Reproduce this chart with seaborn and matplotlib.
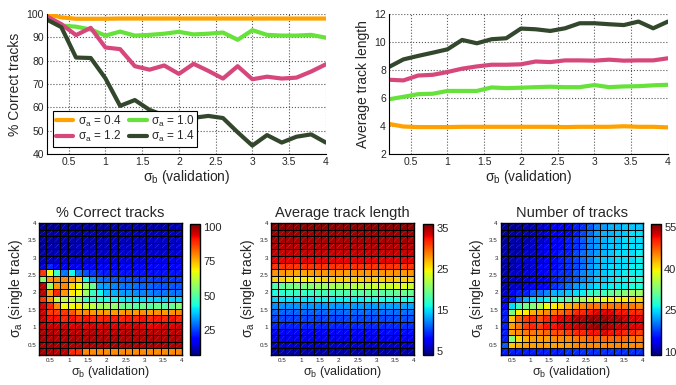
"""
Tracking performance vs. validation / single-track sigma
line plots (top) and parameter sweeps as heatmaps (bottom)
"""

import numpy as np
import pandas as pd
import matplotlib
matplotlib.use('Agg')
import matplotlib.pyplot as plt
from matplotlib.collections import LineCollection
import seaborn as sns

# INITIALIZE A FEW THINGS
sns.set_style('white')
plt.rcParams['font.family'] = ['Liberation Sans', 'DejaVu Sans']
plt.rcParams['mathtext.fontset'] = 'custom'
plt.rcParams['mathtext.rm'] = 'Liberation Sans'
plt.rcParams['mathtext.it'] = 'Liberation Sans:italic'

# ================================= #
# DATA
# ================================= #

sigma_b = [0.2, 0.4, 0.6, 0.8, 1.0, 1.2, 1.4, 1.6, 1.8, 2.0,
           2.2, 2.4, 2.6, 2.8, 3.0, 3.2, 3.4, 3.6, 3.8, 4.0]
sigma_a_lines = ['0.4', '1.0', '1.2', '1.4']
line_colors = ['#ffa200', '#66e23a', '#d6487c', '#33472d']

correct_04 = [100, 98.5, 97.9, 97.9, 97.9, 98, 98, 98, 98, 98,
              98, 98, 98, 98, 98, 98, 98, 98, 98, 98]
correct_10 = [98, 95, 94.5, 93.3, 90.7, 92.4, 90.7, 91, 91.5, 92.3,
              91.2, 91.5, 92, 88.9, 93, 91, 90.7, 90.7, 91, 89.8]
correct_12 = [99, 95.6, 90.9, 94, 85.6, 84.9, 77.6, 76.1, 77.9, 74.3,
              78.6, 75.6, 72.3, 77.6, 72, 73.1, 72.3, 72.7, 75.3, 78.4]
correct_14 = [97.6, 94.3, 81.3, 81.1, 72.4, 60.6, 63.1, 58.9, 56.5, 55.5,
              55.5, 56.3, 55.4, 49.3, 43.6, 48.1, 44.9, 47.4, 48.4, 44.9]

length_04 = [4.15, 3.96, 3.92, 3.92, 3.92, 3.94, 3.94, 3.94, 3.94, 3.94,
             3.94, 3.94, 3.92, 3.94, 3.94, 3.94, 3.98, 3.94, 3.94, 3.9]
length_10 = [5.9, 6.08, 6.27, 6.3, 6.5, 6.5, 6.5, 6.75, 6.7, 6.73,
             6.77, 6.8, 6.77, 6.77, 6.92, 6.77, 6.82, 6.84, 6.9, 6.94]
length_12 = [7.3, 7.25, 7.6, 7.65, 7.85, 8.09, 8.25, 8.37, 8.37, 8.4,
             8.6, 8.56, 8.68, 8.68, 8.66, 8.73, 8.66, 8.68, 8.68, 8.83]
length_14 = [8.2, 8.75, 9.0, 9.23, 9.47, 10.14, 9.9, 10.19, 10.26, 10.95,
             10.9, 10.78, 10.97, 11.33, 11.33, 11.26, 11.2, 11.45, 10.97, 11.45]

# heatmaps: rows run from sigma_a = 4 (top) down to 0.2 (bottom)
correct_grid = [
    [9, 9, 9, 10, 10, 10, 10, 10, 10, 10, 11, 11, 11, 11, 11, 11, 11, 11, 12, 12],
    [9, 10, 10, 10, 10, 10, 11, 11, 11, 11, 11, 11, 12, 12, 12, 12, 12, 12, 12, 12],
    [10, 10, 10, 11, 11, 11, 11, 11, 12, 12, 12, 12, 12, 12, 12, 13, 13, 13, 13, 13],
    [10, 11, 11, 11, 11, 12, 12, 12, 12, 12, 13, 13, 13, 13, 13, 13, 13, 13, 14, 14],
    [11, 11, 12, 12, 12, 12, 13, 13, 13, 13, 13, 14, 14, 14, 14, 14, 14, 14, 14, 15],
    [12, 13, 13, 14, 14, 14, 14, 14, 15, 15, 15, 15, 15, 15, 15, 16, 16, 16, 16, 16],
    [15, 22, 17, 17, 17, 17, 18, 18, 18, 18, 18, 18, 18, 18, 19, 19, 19, 19, 19, 19],
    [88, 68, 46, 30, 42, 30, 26, 24, 22, 21, 21, 20, 20, 20, 20, 20, 20, 20, 20, 20],
    [56, 78, 79, 80, 78, 74, 42, 33, 30, 28, 27, 26, 26, 25, 25, 25, 24, 24, 24, 24],
    [97, 58, 78, 80, 72, 68, 58, 52, 34, 33, 31, 30, 30, 29, 28, 28, 27, 27, 27, 27],
    [97, 78, 90, 78, 70, 68, 58, 46, 42, 36, 35, 33, 33, 32, 31, 31, 30, 30, 30, 30],
    [88, 78, 62, 62, 62, 57, 46, 46, 44, 43, 42, 41, 40, 40, 39, 39, 38, 38, 38, 38],
    [95, 90, 80, 68, 68, 70, 63, 62, 58, 58, 57, 52, 52, 50, 52, 50, 52, 50, 52, 55],
    [95, 88, 88, 88, 85, 80, 80, 78, 78, 78, 78, 78, 79, 78, 79, 78, 79, 78, 79, 80],
    [96, 92, 92, 90, 92, 90, 92, 90, 90, 91, 91, 90, 91, 90, 92, 90, 91, 90, 92, 90],
    [97, 95, 96, 95, 94, 95, 94, 95, 94, 96, 94, 95, 94, 95, 94, 93, 94, 95, 94, 95],
    [98, 98, 97, 98, 97, 97, 97, 98, 97, 97, 97, 97, 98, 97, 97, 97, 97, 97, 97, 97],
    [99, 98, 98, 98, 98, 98, 98, 98, 98, 98, 98, 98, 98, 98, 98, 98, 98, 98, 98, 98],
    [99, 99, 99, 98, 98, 98, 98, 98, 98, 98, 98, 98, 98, 98, 98, 98, 98, 98, 98, 98],
    [99, 98, 97, 97, 90, 89, 80, 80, 80, 80, 80, 80, 80, 80, 80, 80, 80, 80, 80, 80],
]

length_grid = [
    [35.6, 35.5, 35.6, 35.5, 35.6, 35.5, 35.6, 35.5, 35.6, 35.5, 35.6, 35.5, 35.6, 35.5, 35.6, 35.5, 35.6, 35.5, 35.6, 35.5],
    [35.2, 35.1, 35.2, 35.1, 35.2, 35.1, 35.2, 35.1, 35.2, 35.1, 35.2, 35.1, 35.2, 35.1, 35.2, 35.1, 35.2, 35.1, 35.2, 35.1],
    [34.9, 34.8, 34.9, 34.8, 34.9, 34.8, 34.9, 34.8, 34.9, 34.8, 34.9, 34.8, 34.9, 34.8, 34.9, 34.8, 34.9, 34.8, 34.9, 34.8],
    [34.5, 34.4, 34.5, 34.4, 34.5, 34.4, 34.5, 34.4, 34.5, 34.4, 34.5, 34.4, 34.5, 34.4, 34.5, 34.4, 34.5, 34.4, 34.5, 34.4],
    [34.0, 33.9, 34.0, 33.9, 34.0, 33.9, 34.0, 33.9, 34.0, 33.9, 34.0, 33.9, 34.0, 33.9, 34.0, 33.9, 34.0, 33.9, 34.0, 33.9],
    [33.2, 33.0, 33.1, 33.0, 33.2, 33.0, 33.1, 33.0, 33.2, 33.0, 33.1, 33.0, 33.2, 33.0, 33.1, 33.0, 33.2, 33.0, 33.1, 33.0],
    [31.6, 31.4, 31.5, 31.4, 31.6, 31.4, 31.5, 31.4, 31.6, 31.4, 31.5, 31.4, 31.6, 31.4, 31.5, 31.4, 31.6, 31.4, 31.5, 31.4],
    [28.2, 28.0, 27.8, 27.6, 27.6, 27.8, 28.0, 28.0, 28.2, 28.0, 27.8, 28.0, 28.2, 28.0, 28.0, 28.2, 28.0, 28.2, 28.0, 28.2],
    [26.0, 26.0, 25.5, 25.0, 25.0, 25.0, 25.5, 26.0, 26.0, 26.0, 26.0, 26.0, 26.0, 26.5, 26.0, 26.0, 26.5, 26.0, 26.0, 26.0],
    [18.0, 19.0, 19.5, 20.0, 20.0, 20.5, 21.0, 21.0, 21.5, 21.5, 22.0, 22.0, 22.5, 22.5, 23.0, 23.0, 23.0, 23.5, 24.0, 23.0],
    [16.0, 16.5, 17.0, 17.0, 17.0, 17.0, 17.5, 17.5, 17.5, 18.0, 18.0, 18.0, 18.5, 18.5, 18.5, 18.5, 18.5, 19.0, 19.0, 19.0],
    [14.5, 15.0, 15.0, 15.0, 15.0, 15.0, 15.5, 15.5, 15.5, 15.5, 15.5, 15.5, 15.5, 16.0, 16.0, 16.0, 16.0, 16.0, 16.0, 16.0],
    [12.4, 12.5, 12.6, 12.5, 12.6, 12.7, 12.6, 12.7, 12.8, 12.7, 12.8, 12.8, 12.9, 12.8, 12.9, 12.9, 13.0, 12.9, 13.0, 13.0],
    [11.0, 11.1, 11.1, 11.0, 11.2, 11.1, 11.2, 11.2, 11.1, 11.2, 11.3, 11.2, 11.3, 11.3, 11.2, 11.3, 11.4, 11.3, 11.4, 11.4],
    [10.0, 10.1, 10.0, 10.1, 10.1, 10.2, 10.1, 10.2, 10.2, 10.1, 10.2, 10.3, 10.2, 10.3, 10.3, 10.2, 10.3, 10.4, 10.3, 10.4],
    [9.0, 9.1, 9.0, 9.1, 9.0, 9.1, 9.2, 9.1, 9.2, 9.1, 9.2, 9.2, 9.3, 9.2, 9.3, 9.2, 9.3, 9.3, 9.4, 9.3],
    [8.0, 8.1, 8.0, 8.1, 8.0, 8.1, 8.0, 8.1, 8.1, 8.2, 8.1, 8.2, 8.1, 8.2, 8.2, 8.2, 8.3, 8.2, 8.3, 8.3],
    [7.0, 7.0, 7.1, 7.0, 7.1, 7.0, 7.1, 7.1, 7.0, 7.1, 7.1, 7.2, 7.1, 7.2, 7.1, 7.2, 7.2, 7.2, 7.3, 7.2],
    [6.0, 6.0, 6.1, 6.0, 6.1, 6.0, 6.1, 6.0, 6.1, 6.1, 6.0, 6.1, 6.1, 6.2, 6.1, 6.2, 6.1, 6.2, 6.2, 6.2],
    [5.0, 5.0, 5.1, 5.0, 5.1, 5.0, 5.1, 5.0, 5.1, 5.0, 5.1, 5.1, 5.0, 5.1, 5.1, 5.2, 5.1, 5.2, 5.1, 5.2],
]

ntracks_grid = [
    [10, 10, 10, 11, 11, 12, 13, 14, 14, 15, 16, 17, 19, 21, 22, 23, 23, 24, 24, 24],
    [10, 10, 11, 11, 11, 12, 13, 14, 15, 15, 16, 18, 20, 22, 23, 23, 24, 24, 25, 25],
    [10, 11, 11, 11, 12, 12, 13, 14, 15, 16, 17, 19, 21, 22, 23, 24, 24, 25, 25, 25],
    [11, 11, 11, 12, 12, 13, 14, 14, 15, 16, 17, 19, 21, 22, 23, 24, 24, 25, 25, 25],
    [11, 11, 11, 12, 12, 13, 14, 15, 16, 16, 18, 20, 21, 22, 23, 24, 25, 25, 25, 26],
    [11, 11, 12, 12, 13, 13, 14, 15, 16, 17, 18, 20, 21, 23, 24, 24, 25, 25, 25, 26],
    [11, 11, 12, 12, 13, 14, 14, 15, 16, 17, 18, 20, 22, 23, 24, 25, 25, 25, 26, 26],
    [11, 12, 12, 13, 13, 14, 15, 16, 17, 17, 19, 21, 22, 23, 24, 25, 25, 26, 26, 26],
    [12, 12, 12, 13, 14, 14, 15, 16, 17, 18, 19, 21, 22, 24, 24, 25, 26, 26, 27, 27],
    [11, 12, 12, 13, 14, 14, 15, 17, 18, 20, 22, 23, 24, 25, 25, 26, 26, 26, 27, 27],
    [12, 15, 16, 16, 19, 20, 21, 23, 23, 24, 25, 26, 28, 29, 29, 31, 32, 33, 34, 34],
    [14, 16, 20, 23, 25, 25, 26, 28, 29, 30, 32, 35, 37, 38, 39, 40, 40, 40, 41, 41],
    [15, 25, 29, 32, 33, 35, 39, 40, 41, 43, 44, 45, 46, 46, 46, 46, 46, 46, 46, 45],
    [16, 32, 40, 40, 43, 44, 45, 46, 47, 48, 50, 50, 51, 52, 52, 52, 51, 51, 50, 50],
    [16, 42, 47, 49, 50, 48, 50, 51, 52, 52, 54, 54, 55, 55, 55, 54, 54, 53, 52, 52],
    [16, 44, 46, 49, 50, 49, 51, 51, 52, 52, 53, 54, 54, 55, 55, 54, 53, 53, 52, 52],
    [16, 44, 45, 46, 46, 46, 47, 48, 48, 49, 50, 50, 51, 51, 52, 51, 51, 50, 50, 49],
    [16, 33, 41, 43, 44, 44, 44, 45, 45, 45, 46, 46, 47, 47, 47, 47, 47, 47, 46, 46],
    [19, 42, 43, 44, 44, 44, 44, 44, 44, 44, 45, 45, 45, 45, 45, 45, 45, 45, 45, 45],
    [16, 16, 16, 16, 16, 16, 16, 16, 16, 17, 17, 17, 17, 17, 17, 17, 17, 17, 17, 17],
]

sigma_ticks = [0.5, 1, 1.5, 2, 2.5, 3, 3.5, 4]
sigma_ticklabels = ['0.5', '1', '1.5', '2', '2.5', '3', '3.5', '4']

lines = pd.DataFrame({
    'sigma_b': sigma_b * 4,
    'sigma_a': np.repeat(sigma_a_lines, len(sigma_b)),
    'correct': correct_04 + correct_10 + correct_12 + correct_14,
    'length': length_04 + length_10 + length_12 + length_14,
})
palette = dict(zip(sigma_a_lines, line_colors))

xlab = r'$\mathrm{\sigma}_\mathrm{b}$ (validation)'
ylab_a = r'$\mathrm{\sigma}_\mathrm{a}$ (single track)'

fig = plt.figure(figsize=(6.76, 3.85), dpi=100)

# ================================= #
# LINE PLOTS
# ================================= #

ax1 = fig.add_axes([0.069, 0.600, 0.413, 0.364])
ax2 = fig.add_axes([0.575, 0.600, 0.413, 0.364])

for ax, col, ylim, yticks, ylabel in [
        (ax1, 'correct', (40, 100), range(40, 101, 10), '% Correct tracks'),
        (ax2, 'length', (2, 12), range(2, 13, 2), 'Average track length')]:
    sns.lineplot(data=lines, x='sigma_b', y=col, hue='sigma_a', palette=palette,
                 hue_order=sigma_a_lines, linewidth=3, legend=False, ax=ax)
    ax.set_xlim(0.2, 4)
    ax.set_ylim(*ylim)
    ax.set_xticks(sigma_ticks)
    ax.set_xticklabels(sigma_ticklabels)
    ax.set_yticks(list(yticks))
    ax.grid(True, linestyle=':', color='0.35', linewidth=0.8)
    ax.tick_params(labelsize=7.5, direction='in', length=3, pad=2)
    ax.set_xlabel(xlab, fontsize=10, labelpad=1)
    ax.set_ylabel(ylabel, fontsize=10, labelpad=3)
    sns.despine(ax=ax)
    for s in ['left', 'bottom']:
        ax.spines[s].set_color('black')
        ax.spines[s].set_linewidth(0.8)

handles = ax1.lines[:4]
labels = [r'$\mathrm{\sigma}_\mathrm{a}$ = ' + s for s in sigma_a_lines]
order = [0, 2, 1, 3]
leg = ax1.legend([handles[i] for i in order], [labels[i] for i in order], ncol=2,
                 loc='lower left', bbox_to_anchor=(0.015, 0.035), fontsize=8.5,
                 handlelength=1.5, handletextpad=0.4, columnspacing=0.6,
                 labelspacing=0.05, borderpad=0.2, borderaxespad=0.2,
                 fancybox=False, framealpha=1)
leg.get_frame().set_edgecolor('black')
leg.get_frame().set_linewidth(0.8)

# ================================= #
# HEATMAPS
# ================================= #

heat_specs = [
    (correct_grid, '% Correct tracks', 7, 102, [25, 50, 75, 100],
     [0.0577, 0.0779, 0.2115, 0.343], [0.281, 0.078, 0.0155, 0.340]),
    (length_grid, 'Average track length', 4, 36, [5, 15, 25, 35],
     [0.401, 0.0779, 0.2115, 0.343], [0.6255, 0.078, 0.0155, 0.340]),
    (ntracks_grid, 'Number of tracks', 9, 56, [10, 25, 40, 55],
     [0.7405, 0.0779, 0.2100, 0.343], [0.963, 0.078, 0.0155, 0.340]),
]

n = len(sigma_b)
xpos = [(v - 0.2) / 3.8 * n for v in sigma_ticks]
ypos = [(4.0 - v) / 3.8 * n for v in sigma_ticks]

for grid, title, vmin, vmax, cticks, hpos, cpos in heat_specs:
    hax = fig.add_axes(hpos)
    cax = fig.add_axes(cpos)
    arr = np.array(grid, dtype=float)
    sns.heatmap(arr, ax=hax, cbar_ax=cax, cmap='jet',
                vmin=vmin, vmax=vmax, linewidths=0.7, linecolor='black',
                xticklabels=False, yticklabels=False,
                cbar_kws={'ticks': cticks})
    # faint diagonal stroke inside each cell, like the original renderer
    nr, nc = arr.shape
    segs = [[(j + 0.2, i + 0.8), (j + 0.8, i + 0.2)]
            for i in range(nr) for j in range(nc)]
    hax.add_collection(LineCollection(segs, colors='white', linewidths=0.4,
                                      linestyles=(0, (1.5, 1.5)), alpha=0.35))
    hax.set_xticks(xpos)
    hax.set_xticklabels(sigma_ticklabels, rotation=0)
    hax.set_yticks(ypos)
    hax.set_yticklabels(sigma_ticklabels, rotation=0)
    hax.tick_params(labelsize=4.5, length=0, pad=2)
    for s in hax.spines.values():
        s.set_visible(True)
        s.set_color('black')
        s.set_linewidth(1)
    hax.set_title(title, fontsize=10.5, pad=4)
    hax.set_xlabel(xlab, fontsize=9, labelpad=1)
    hax.set_ylabel(ylab_a, fontsize=10, labelpad=2)

    cb = hax.collections[0].colorbar
    cb.outline.set_visible(True)
    cb.outline.set_linewidth(1)
    cb.outline.set_edgecolor('black')
    cax.tick_params(labelsize=8, length=0, pad=2)

fig.savefig('out.png', dpi=100)
plt.close('all')
